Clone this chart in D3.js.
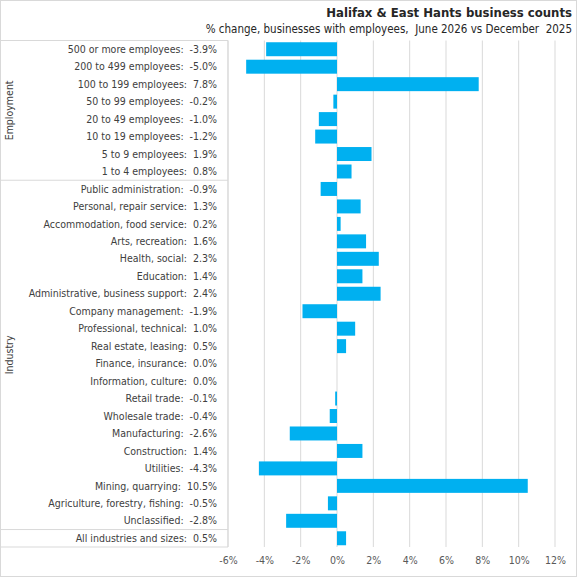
<!DOCTYPE html>
<html>
<head>
<meta charset="utf-8">
<script src="https://cdn.jsdelivr.net/npm/d3@7"></script>
<style>
  body { margin: 0; background: #fff; }
  svg text { font-family: "DejaVu Sans Condensed", "Liberation Sans", sans-serif; white-space: pre; }
</style>
</head>
<body>
<div id="chart"></div>
<script>
const categories = [
  "500 or more employees", "200 to 499 employees", "100 to 199 employees", "50 to 99 employees",
  "20 to 49 employees", "10 to 19 employees", "5 to 9 employees", "1 to 4 employees",
  "Public administration", "Personal, repair service", "Accommodation, food service",
  "Arts, recreation", "Health, social", "Education", "Administrative, business support",
  "Company management", "Professional, technical", "Real estate, leasing", "Finance, insurance",
  "Information, culture", "Retail trade", "Wholesale trade", "Manufacturing", "Construction",
  "Utilities", "Mining, quarrying", "Agriculture, forestry, fishing", "Unclassified",
  "All industries and sizes"
];
const values = [
  -3.9, -5.0, 7.8, -0.2, -1.0, -1.2, 1.9, 0.8,
  -0.9, 1.3, 0.2, 1.6, 2.3, 1.4, 2.4, -1.9, 1.0, 0.5, 0.0, 0.0,
  -0.1, -0.4, -2.6, 1.4, -4.3, 10.5, -0.5, -2.8,
  0.5
];
const groups = [
  { name: "Employment", start: 0, end: 8 },
  { name: "Industry", start: 8, end: 28 },
  { name: "", start: 28, end: 29 }
];
const xTicks = [-6, -4, -2, 0, 2, 4, 6, 8, 10, 12];

const width = 577, height = 577;
const margin = { top: 40.5, right: 22, bottom: 30, left: 228 };
const data = categories.map((c, i) => ({ name: c, value: values[i] }));

const svg = d3.select("#chart").append("svg")
  .attr("width", width)
  .attr("height", height);

svg.append("rect")
  .attr("x", 0.5).attr("y", 0.5)
  .attr("width", width - 1).attr("height", height - 1)
  .attr("fill", "#fff").attr("stroke", "#d9d9d9");

const x = d3.scaleLinear().domain([-6, 12]).range([margin.left, width - margin.right]);
const y = d3.scaleBand().domain(d3.range(data.length))
  .range([margin.top, height - margin.bottom]).paddingInner(0.2).paddingOuter(0.1);
const step = y.step();

// gridlines
svg.append("g")
  .selectAll("line")
  .data(xTicks)
  .join("line")
  .attr("x1", d => x(d)).attr("x2", d => x(d))
  .attr("y1", margin.top).attr("y2", height - margin.bottom)
  .attr("stroke", "#d9d9d9").attr("stroke-width", 1);

// bars
svg.append("g")
  .selectAll("rect")
  .data(data)
  .join("rect")
  .attr("x", d => x(Math.min(0, d.value)))
  .attr("width", d => Math.abs(x(d.value) - x(0)))
  .attr("y", (d, i) => y(i))
  .attr("height", y.bandwidth())
  .attr("fill", "#00b0f0");

// category axis box
const rowTop = i => margin.top + i * step;
const box = svg.append("g").attr("stroke", "#d9d9d9").attr("stroke-width", 1);
box.append("line")
  .attr("x1", margin.left).attr("x2", margin.left)
  .attr("y1", margin.top).attr("y2", height - margin.bottom);
box.selectAll("line.sep")
  .data([0, ...groups.map(g => g.end)])
  .join("line")
  .attr("class", "sep")
  .attr("x1", 0).attr("x2", margin.left)
  .attr("y1", d => rowTop(d)).attr("y2", d => rowTop(d));

// category labels
svg.append("g")
  .selectAll("text")
  .data(data)
  .join("text")
  .attr("x", margin.left - 11)
  .attr("y", (d, i) => y(i) + y.bandwidth() / 2)
  .attr("dy", "0.35em")
  .attr("text-anchor", "end")
  .attr("font-size", 10.5)
  .attr("fill", "#404040")
  .text(d => `${d.name}:  ${d.value.toFixed(1)}%`);

// group labels
svg.append("g")
  .selectAll("text")
  .data(groups.filter(g => g.name))
  .join("text")
  .attr("transform", g => `translate(13,${(rowTop(g.start) + rowTop(g.end)) / 2}) rotate(-90)`)
  .attr("text-anchor", "middle")
  .attr("font-size", 10.5)
  .attr("fill", "#404040")
  .text(g => g.name);

// x axis ticks
const xAxis = svg.append("g")
  .attr("transform", `translate(0,${height - margin.bottom})`)
  .call(d3.axisBottom(x).tickValues(xTicks).tickSize(0).tickPadding(10).tickFormat(d => d + "%"));
xAxis.select(".domain").remove();
xAxis.selectAll("text")
  .attr("font-size", 10.5)
  .attr("fill", "#595959")
  .style("font-family", "\"DejaVu Sans Condensed\", \"Liberation Sans\", sans-serif");

// titles
svg.append("text")
  .attr("x", width - 5).attr("y", 17)
  .attr("text-anchor", "end")
  .attr("font-size", 13)
  .attr("font-weight", "bold")
  .attr("fill", "#262626")
  .text("Halifax & East Hants business counts");

svg.append("text")
  .attr("x", width - 5).attr("y", 33)
  .attr("text-anchor", "end")
  .attr("font-size", 11.5)
  .attr("fill", "#262626")
  .text("% change, businesses with employees,  June 2026 vs December  2025");
</script>
</body>
</html>
